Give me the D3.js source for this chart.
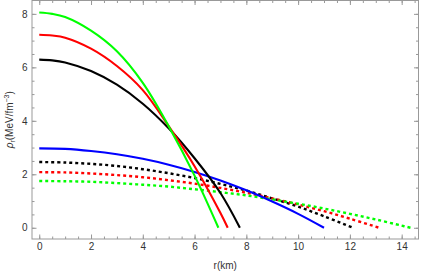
<!DOCTYPE html>
<html>
<head>
<meta charset="utf-8">
<script src="https://cdn.jsdelivr.net/npm/d3@7"></script>
<style>
  body { margin: 0; background: #fff; }
  svg { display: block; font-family: "Liberation Sans", Arial, sans-serif; }
</style>
</head>
<body>
<svg width="421" height="272"></svg>
<script>
// radius (km) and density values
var rBlackSolid = [0, 0.5, 1, 2, 3, 4, 5, 6, 7, 7.75];
var vBlackSolid = [6.29, 6.26, 6.18, 5.86, 5.35, 4.64, 3.72, 2.6, 1.3, 0];

var rRedSolid = [0, 0.5, 1, 2, 3, 4, 5, 6, 7, 7.28];
var vRedSolid = [7.22, 7.19, 7.11, 6.7, 6.05, 5.15, 3.8, 2.3, 0.55, 0];

var rGreenSolid = [0, 0.5, 1, 2, 3, 4, 5, 6, 6.92];
var vGreenSolid = [8.05, 8.0, 7.88, 7.37, 6.6, 5.42, 3.8, 1.95, 0];

var rBlue = [0, 1, 2, 3, 4, 5, 6, 7, 8, 9, 10, 11];
var vBlue = [2.97, 2.95, 2.87, 2.75, 2.58, 2.36, 2.09, 1.77, 1.4, 0.98, 0.52, 0];

var rBlackDot = [0, 1, 2, 3, 4, 5, 6, 7, 8, 9, 10, 11, 12.12];
var vBlackDot = [2.46, 2.44, 2.39, 2.31, 2.19, 2.04, 1.86, 1.64, 1.39, 1.1, 0.79, 0.43, 0];

var rRedDot = [0, 1, 2, 3, 4, 5, 6, 7, 8, 9, 10, 11, 12, 13.13];
var vRedDot = [2.08, 2.07, 2.03, 1.97, 1.89, 1.78, 1.65, 1.49, 1.31, 1.1, 0.87, 0.62, 0.34, 0];

var rGreenDot = [0, 1, 2, 3, 4, 5, 6, 7, 8, 9, 10, 11, 12, 13, 14, 14.34];
var vGreenDot = [1.75, 1.74, 1.72, 1.67, 1.61, 1.54, 1.44, 1.33, 1.21, 1.06, 0.9, 0.72, 0.52, 0.31, 0.08, 0];

var xTicks = [0, 2, 4, 6, 8, 10, 12, 14];
var yTicks = [0, 2, 4, 6, 8];

var series = [
  { r: rBlackDot, v: vBlackDot, color: "#000", dash: "3,3" },
  { r: rRedDot, v: vRedDot, color: "#f00", dash: "3,3" },
  { r: rGreenDot, v: vGreenDot, color: "#0f0", dash: "3,3" },
  { r: rBlue, v: vBlue, color: "#00f", dash: null },
  { r: rBlackSolid, v: vBlackSolid, color: "#000", dash: null },
  { r: rRedSolid, v: vRedSolid, color: "#f00", dash: null },
  { r: rGreenSolid, v: vGreenSolid, color: "#0f0", dash: null }
];

var plotL = 32, plotR = 418.5, plotT = 0.5, plotB = 239;

var x = d3.scaleLinear().domain([-0.28, 14.65]).range([plotL, plotR]);
var y = d3.scaleLinear().domain([-0.42, 8.5]).range([plotB, plotT]);

var svg = d3.select("svg");

var minorX = d3.range(0, 14.6, 0.5);
var minorY = d3.range(0, 8.5, 0.5);

function styleAxis(g) {
  g.select(".domain").remove();
  g.selectAll("line").attr("stroke", "#999");
  g.selectAll("text").attr("fill", "#333").attr("font-size", 10);
}

// minor ticks, all four sides
svg.append("g").attr("transform", "translate(0," + plotB + ")")
  .call(d3.axisBottom(x).tickValues(minorX).tickSize(-2.5).tickFormat(""))
  .call(styleAxis);
svg.append("g").attr("transform", "translate(0," + plotT + ")")
  .call(d3.axisTop(x).tickValues(minorX).tickSize(-2.5).tickFormat(""))
  .call(styleAxis);
svg.append("g").attr("transform", "translate(" + plotL + ",0)")
  .call(d3.axisLeft(y).tickValues(minorY).tickSize(-2.5).tickFormat(""))
  .call(styleAxis);
svg.append("g").attr("transform", "translate(" + plotR + ",0)")
  .call(d3.axisRight(y).tickValues(minorY).tickSize(-2.5).tickFormat(""))
  .call(styleAxis);

// major ticks
svg.append("g").attr("transform", "translate(0," + plotB + ")")
  .call(d3.axisBottom(x).tickValues(xTicks).tickSize(-4.5).tickPadding(4).tickFormat(d3.format("d")))
  .call(styleAxis);
svg.append("g").attr("transform", "translate(0," + plotT + ")")
  .call(d3.axisTop(x).tickValues(xTicks).tickSize(-4.5).tickFormat(""))
  .call(styleAxis);
svg.append("g").attr("transform", "translate(" + plotL + ",0)")
  .call(d3.axisLeft(y).tickValues(yTicks).tickSize(-4.5).tickPadding(4.5).tickFormat(d3.format("d")))
  .call(styleAxis);
svg.append("g").attr("transform", "translate(" + plotR + ",0)")
  .call(d3.axisRight(y).tickValues(yTicks).tickSize(-4.5).tickFormat(""))
  .call(styleAxis);

// frame
svg.append("rect")
  .attr("x", plotL).attr("y", plotT)
  .attr("width", plotR - plotL).attr("height", plotB - plotT)
  .attr("fill", "none").attr("stroke", "#999").attr("stroke-width", 1);

var line = d3.line()
  .x(function (d) { return x(d[0]); })
  .y(function (d) { return y(d[1]); })
  .curve(d3.curveCatmullRom.alpha(0.5));

svg.append("g").selectAll("path")
  .data(series)
  .enter()
  .append("path")
  .attr("d", function (s) { return line(s.r.map(function (r, i) { return [r, s.v[i]]; })); })
  .attr("fill", "none")
  .attr("stroke", function (s) { return s.color; })
  .attr("stroke-width", function (s) { return s.dash ? 2.4 : 2.1; })
  .attr("stroke-dasharray", function (s) { return s.dash; });

// axis labels
svg.append("text")
  .attr("x", (plotL + plotR) / 2).attr("y", 269)
  .attr("text-anchor", "middle").attr("font-size", 10).attr("fill", "#333")
  .text("r(km)");

var yl = svg.append("text")
  .attr("transform", "translate(12.5," + ((plotT + plotB) / 2) + ") rotate(-90)")
  .attr("text-anchor", "middle").attr("font-size", 10).attr("fill", "#333");
yl.append("tspan").attr("font-style", "italic").text("ρ");
yl.append("tspan").attr("font-size", 7).attr("dy", 2).text("r");
yl.append("tspan").attr("dy", -2).text("(MeV/fm");
yl.append("tspan").attr("font-size", 7).attr("dy", -4).text("−3");
yl.append("tspan").attr("dy", 4).text(")");
</script>
</body>
</html>
